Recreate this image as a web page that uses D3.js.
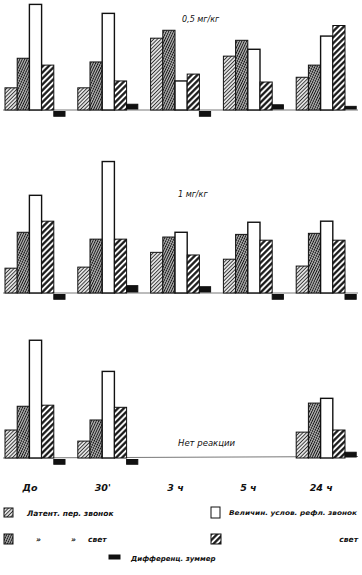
<!DOCTYPE html>
<html>
<head>
<meta charset="utf-8">
<script src="https://cdn.jsdelivr.net/npm/d3@7"></script>
<style>
  body { margin: 0; background: #fff; }
  text { font-family: "DejaVu Sans", sans-serif; font-style: italic; fill: #111; }
</style>
</head>
<body>
<div id="chart"></div>
<script>
// Категории по времени после введения
var categories = ["До", "30'", "3 ч", "5 ч", "24 ч"];
var seriesKeys = ["latZv", "latSv", "velZv", "velSv", "diff"];

// Значения для каждой дозы (по порядку серий), null = нет реакции
var dose05 = [
  [4.2, 9.8, 20.0, 8.5, -0.9],
  [4.2, 9.1, 18.3, 5.5, 0.9],
  [13.6, 15.1, 5.5, 6.8, -0.9],
  [10.2, 13.2, 11.5, 5.3, 0.8],
  [6.2, 8.5, 14.0, 16.0, 0.5]
];
var dose1 = [
  [4.7, 11.5, 18.5, 13.6, -0.9],
  [4.9, 10.2, 24.9, 10.2, 1.2],
  [7.7, 10.6, 11.5, 7.2, 1.0],
  [6.4, 11.1, 13.4, 10.0, -0.9],
  [5.1, 11.3, 13.6, 10.0, -0.9]
];
var noReaction = [
  [5.3, 9.8, 22.3, 10.0, -0.9],
  [3.2, 7.2, 16.4, 9.6, -0.9],
  null,
  null,
  [4.9, 10.4, 11.3, 5.3, 0.9]
];

var panels = [
  { label: "0,5 мг/кг", data: dose05, base: 110, lx: 182, ly: 22 },
  { label: "1 мг/кг", data: dose1, base: 293, lx: 178, ly: 197 },
  { label: "Нет реакции", data: noReaction, base: 458, lx: 178, ly: 446 }
];

var width = 362, height = 575;

var svg = d3.select("#chart")
  .append("svg")
  .attr("width", width)
  .attr("height", height);

// Штриховки
var defs = svg.append("defs");
function hatch(id, angle, gap, sw, bg) {
  var p = defs.append("pattern")
    .attr("id", id)
    .attr("patternUnits", "userSpaceOnUse")
    .attr("width", gap).attr("height", gap)
    .attr("patternTransform", "rotate(" + angle + ")");
  p.append("rect").attr("width", gap).attr("height", gap).attr("fill", bg);
  p.append("line")
    .attr("x1", gap / 2).attr("y1", 0).attr("x2", gap / 2).attr("y2", gap)
    .attr("stroke", "#111").attr("stroke-width", sw);
  return p;
}
hatch("p-lat", 45, 2.6, 0.75, "#e2e2e2");
var pc = hatch("p-sv", 25, 2.2, 0.85, "#bcbcbc");
pc.append("line")
  .attr("x1", 0).attr("y1", 1.1).attr("x2", 2.2).attr("y2", 1.1)
  .attr("stroke", "#333").attr("stroke-width", 0.5).attr("stroke-dasharray", "0.6,0.5");
hatch("p-bold", 45, 4.2, 2.2, "#fff");

var fills = {
  latZv: "url(#p-lat)",
  latSv: "url(#p-sv)",
  velZv: "#fff",
  velSv: "url(#p-bold)",
  diff: "#111"
};

var x0 = d3.scaleBand().domain(categories).range([5, 369]).paddingInner(0);
var x1 = d3.scaleBand().domain(seriesKeys).range([0, 61]).padding(0);
var y = d3.scaleLinear().domain([0, 25]).range([0, 132]);

panels.forEach(function(panel) {
  var g = svg.append("g");

  // базовая линия
  g.append("line")
    .attr("x1", 3).attr("x2", 358)
    .attr("y1", panel.base).attr("y2", panel.base - (panel.data[2] ? 0 : 1.5))
    .attr("stroke", "#555").attr("stroke-width", 0.8);

  categories.forEach(function(cat, i) {
    var vals = panel.data[i];
    if (!vals) return;
    var grp = g.append("g").attr("transform", "translate(" + x0(cat) + ",0)");
    grp.selectAll("rect")
      .data(seriesKeys.map(function(k, j) { return { key: k, v: vals[j] }; }))
      .enter()
      .append("rect")
      .attr("x", function(d) { return x1(d.key); })
      .attr("width", function(d) { return d.key == "diff" ? x1.bandwidth() - 1 : x1.bandwidth(); })
      .attr("y", function(d) {
        if (d.key == "diff") return d.v < 0 ? panel.base + 1.5 : panel.base - 1 - y(Math.abs(d.v));
        return panel.base - y(d.v);
      })
      .attr("height", function(d) { return d.key == "diff" ? y(Math.abs(d.v)) : y(d.v); })
      .attr("fill", function(d) { return fills[d.key]; })
      .attr("stroke", "#111")
      .attr("stroke-width", function(d) { return d.key == "velZv" ? 1.4 : 1; });
  });

  g.append("text")
    .attr("x", panel.lx).attr("y", panel.ly)
    .attr("font-size", panel.label == "Нет реакции" ? 8.5 : 8)
    .text(panel.label);
});

// подписи времени
svg.append("g")
  .selectAll("text")
  .data(categories)
  .enter()
  .append("text")
  .attr("x", function(d) { return x0(d) + 25; })
  .attr("y", 491)
  .attr("text-anchor", "middle")
  .attr("font-size", 9.5)
  .attr("font-weight", "bold")
  .text(function(d) { return d; });

// Легенда
var legend = svg.append("g").attr("font-size", 7.5).attr("font-weight", "bold");
function swatch(x, yy, w, h, fill) {
  legend.append("rect")
    .attr("x", x).attr("y", yy).attr("width", w).attr("height", h)
    .attr("fill", fill).attr("stroke", "#111").attr("stroke-width", 1);
}
swatch(4, 508, 9, 9, fills.latZv);
legend.append("text").attr("x", 27).attr("y", 516).text("Латент. пер. звонок");
swatch(4, 534, 9, 10, fills.latSv);
legend.append("text").attr("x", 36).attr("y", 542).text("»");
legend.append("text").attr("x", 71).attr("y", 542).text("»");
legend.append("text").attr("x", 88).attr("y", 542).text("свет");

swatch(211, 507, 9, 11, fills.velZv);
legend.append("text").attr("x", 229).attr("y", 515)
  .attr("font-size", 6.5).attr("textLength", 128).attr("lengthAdjust", "spacingAndGlyphs")
  .text("Величин. услов. рефл. звонок");
swatch(211, 534, 10, 10, fills.velSv);
legend.append("text").attr("x", 358).attr("y", 542).attr("text-anchor", "end").text("свет");

swatch(109, 555, 11, 4, fills.diff);
legend.append("text").attr("x", 131).attr("y", 561)
  .attr("font-size", 7).text("Дифференц. зуммер");
</script>
</body>
</html>
